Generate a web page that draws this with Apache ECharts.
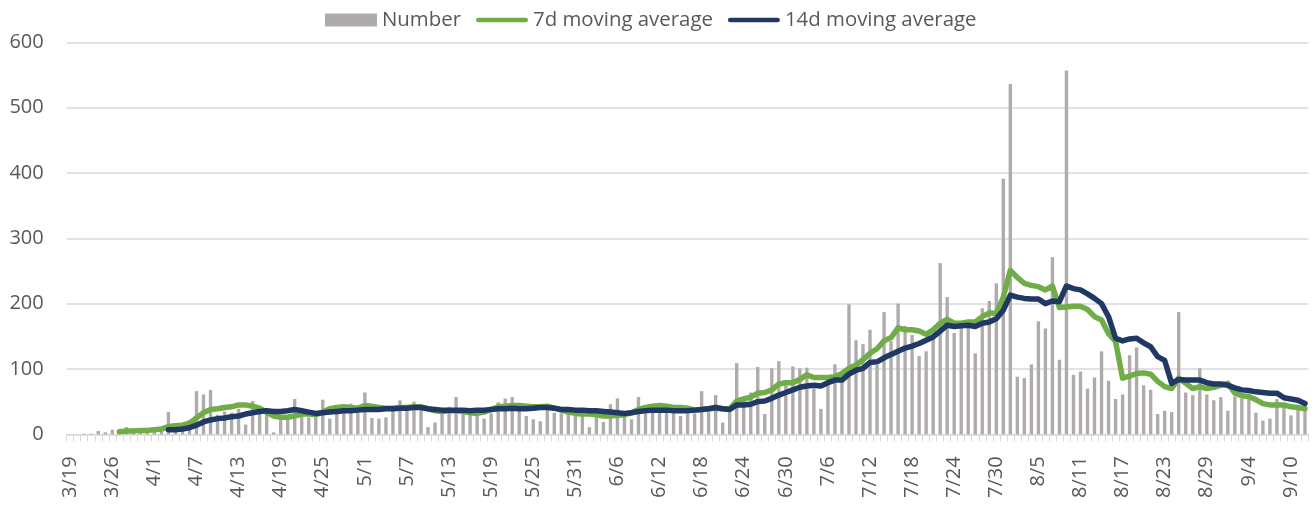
<!DOCTYPE html>
<html>
<head>
<meta charset="utf-8">
<style>
  html, body { margin: 0; padding: 0; background: #fff; }
  #chart { width: 1315px; height: 519px; }
</style>
<script src="https://cdn.jsdelivr.net/npm/echarts@6.0.0/dist/echarts.min.js"></script>
</head>
<body>
<div id="chart"></div>
<script>
// daily dates (3/20 is not in the source sheet)
const dates = [
  '3/19','3/21','3/22','3/23','3/24','3/25','3/26','3/27','3/28','3/29','3/30','3/31',
  '4/1','4/2','4/3','4/4','4/5','4/6','4/7','4/8','4/9','4/10','4/11','4/12','4/13','4/14','4/15',
  '4/16','4/17','4/18','4/19','4/20','4/21','4/22','4/23','4/24','4/25','4/26','4/27','4/28','4/29','4/30',
  '5/1','5/2','5/3','5/4','5/5','5/6','5/7','5/8','5/9','5/10','5/11','5/12','5/13','5/14','5/15','5/16',
  '5/17','5/18','5/19','5/20','5/21','5/22','5/23','5/24','5/25','5/26','5/27','5/28','5/29','5/30','5/31',
  '6/1','6/2','6/3','6/4','6/5','6/6','6/7','6/8','6/9','6/10','6/11','6/12','6/13','6/14','6/15',
  '6/16','6/17','6/18','6/19','6/20','6/21','6/22','6/23','6/24','6/25','6/26','6/27','6/28','6/29','6/30',
  '7/1','7/2','7/3','7/4','7/5','7/6','7/7','7/8','7/9','7/10','7/11','7/12','7/13','7/14','7/15','7/16',
  '7/17','7/18','7/19','7/20','7/21','7/22','7/23','7/24','7/25','7/26','7/27','7/28','7/29','7/30','7/31',
  '8/1','8/2','8/3','8/4','8/5','8/6','8/7','8/8','8/9','8/10','8/11','8/12','8/13','8/14','8/15','8/16',
  '8/17','8/18','8/19','8/20','8/21','8/22','8/23','8/24','8/25','8/26','8/27','8/28','8/29','8/30','8/31',
  '9/1','9/2','9/3','9/4','9/5','9/6','9/7','9/8','9/9','9/10','9/11','9/12'
];

const number = [
  0, 0, 1, 1, 5, 3, 7, 3, 11, 4, 5, 6, 6, 5, 34, 8, 10, 22, 66, 61,
  68, 30, 35, 33, 39, 15, 51, 38, 33, 3, 23, 22, 54, 28, 26, 26, 53, 24, 44, 42,
  47, 41, 64, 25, 24, 26, 37, 52, 37, 50, 40, 11, 18, 31, 42, 57, 35, 32, 30, 24,
  32, 49, 55, 57, 37, 28, 23, 20, 42, 33, 32, 31, 28, 30, 11, 28, 19, 46, 55, 28,
  23, 57, 32, 37, 37, 35, 32, 28, 32, 32, 66, 34, 60, 18, 37, 109, 52, 64, 103, 31,
  101, 112, 80, 104, 101, 102, 70, 39, 83, 107, 83, 199, 144, 138, 160, 106, 187, 143, 200, 166,
  152, 120, 127, 154, 262, 210, 155, 165, 170, 124, 193, 204, 231, 391, 536, 88, 86, 107, 173, 162,
  271, 114, 557, 91, 96, 70, 87, 127, 82, 54, 61, 121, 133, 75, 68, 31, 36, 34, 187, 64,
  60, 101, 61, 52, 57, 36, 58, 55, 55, 33, 21, 24, 54, 46, 29, 41, 42
];

const avg7 = [
  null, null, null, null, null, null, null, 4, 5, 5, 6, 6, 7, 8, 12, 13, 14, 17, 25, 33,
  38, 39, 41, 42, 45, 45, 43, 40, 34, 28, 26, 26, 28, 31, 31, 30, 34, 39, 41, 42,
  41, 40, 44, 43, 41, 40, 40, 41, 41, 42, 42, 39, 36, 35, 36, 36, 35, 33, 32, 34,
  38, 42, 43, 44, 44, 43, 42, 42, 43, 40, 37, 34, 32, 31, 31, 30, 28, 28, 29, 30,
  33, 38, 41, 43, 44, 43, 41, 41, 40, 37, 38, 39, 40, 39, 39, 51, 54, 57, 63, 64,
  68, 77, 79, 79, 84, 91, 87, 87, 87, 88, 93, 101, 106, 114, 124, 131, 143, 148, 163, 160,
  160, 158, 153, 160, 170, 176, 170, 170, 172, 172, 180, 186, 185, 210, 251, 240, 231, 228, 226, 221,
  227, 194, 195, 196, 196, 191, 180, 175, 154, 142, 86, 89, 93, 94, 92, 81, 73, 70, 86, 78,
  70, 73, 70, 72, 75, 78, 63, 59, 58, 53, 47, 45, 45, 45, 42, 41, 39
];

const avg14 = [
  null, null, null, null, null, null, null, null, null, null, null, null, null, null, 7, 7, 8, 10, 14, 19,
  22, 24, 25, 27, 28, 31, 33, 35, 36, 35, 35, 36, 38, 36, 34, 32, 33, 34, 35, 36,
  36, 37, 38, 38, 38, 39, 39, 40, 40, 41, 41, 39, 38, 37, 37, 37, 37, 36, 37, 37,
  38, 39, 39, 40, 39, 39, 40, 41, 41, 40, 38, 38, 37, 37, 36, 36, 35, 34, 33, 32,
  33, 35, 36, 37, 37, 37, 36, 36, 36, 37, 38, 39, 41, 39, 38, 45, 45, 46, 50, 51,
  55, 60, 64, 68, 72, 74, 75, 74, 79, 83, 83, 92, 98, 101, 110, 111, 117, 122, 127, 132,
  135, 139, 144, 149, 158, 167, 165, 166, 167, 165, 170, 172, 177, 190, 213, 210, 208, 207, 207, 200,
  204, 203, 227, 223, 221, 215, 208, 200, 180, 147, 143, 146, 147, 140, 134, 119, 113, 78, 84, 83,
  83, 83, 79, 77, 77, 75, 71, 68, 67, 65, 64, 63, 63, 56, 54, 52, 47
];

const yTicks = [0, 100, 200, 300, 400, 500, 600];

// thick line with round ends, used as legend icon for the two averages
const lineIcon = 'path://M2.5,0H53.5A2.5,2.5,0,0,1,53.5,5H2.5A2.5,2.5,0,0,1,2.5,0Z';

const chart = echarts.init(document.getElementById('chart'), null, { renderer: 'canvas' });
chart.setOption({
  animation: false,
  textStyle: { fontFamily: 'Open Sans', color: '#595959' },
  legend: {
    left: 320,
    top: 5,
    itemWidth: 52,
    itemHeight: 13,
    itemGap: 15,
    textStyle: { fontFamily: 'Open Sans', fontSize: 20.4, color: '#595959' },
    data: [
      { name: 'Number', icon: 'rect' },
      { name: '7d moving average', icon: lineIcon },
      { name: '14d moving average', icon: lineIcon }
    ]
  },
  grid: { left: 66.7, right: 6.5, top: 42.3, bottom: 84.7, containLabel: false },
  xAxis: {
    type: 'category',
    data: dates,
    boundaryGap: true,
    axisLine: { lineStyle: { color: '#D9D9D9', width: 1 } },
    axisTick: { show: true, interval: 0, length: 7, lineStyle: { color: '#D9D9D9' } },
    axisLabel: { interval: 5, rotate: 90, fontSize: 20, color: '#595959', margin: 22 }
  },
  yAxis: {
    type: 'value',
    min: yTicks[0],
    max: yTicks[yTicks.length - 1],
    interval: 100,
    axisLine: { show: false },
    axisTick: { show: false },
    axisLabel: { fontSize: 20, color: '#595959', margin: 23 },
    splitLine: { lineStyle: { color: '#D9D9D9', width: 1.5 } }
  },
  series: [
    {
      name: 'Number',
      type: 'bar',
      data: number,
      barWidth: '48%',
      itemStyle: { color: '#AFABAB' }
    },
    {
      name: '7d moving average',
      type: 'line',
      data: avg7,
      symbol: 'none',
      lineStyle: { color: '#70AD47', width: 5.5, cap: 'round', join: 'round' },
      itemStyle: { color: '#70AD47' }
    },
    {
      name: '14d moving average',
      type: 'line',
      data: avg14,
      symbol: 'none',
      lineStyle: { color: '#1F3864', width: 5.5, cap: 'round', join: 'round' },
      itemStyle: { color: '#1F3864' }
    }
  ]
});
</script>
</body>
</html>
